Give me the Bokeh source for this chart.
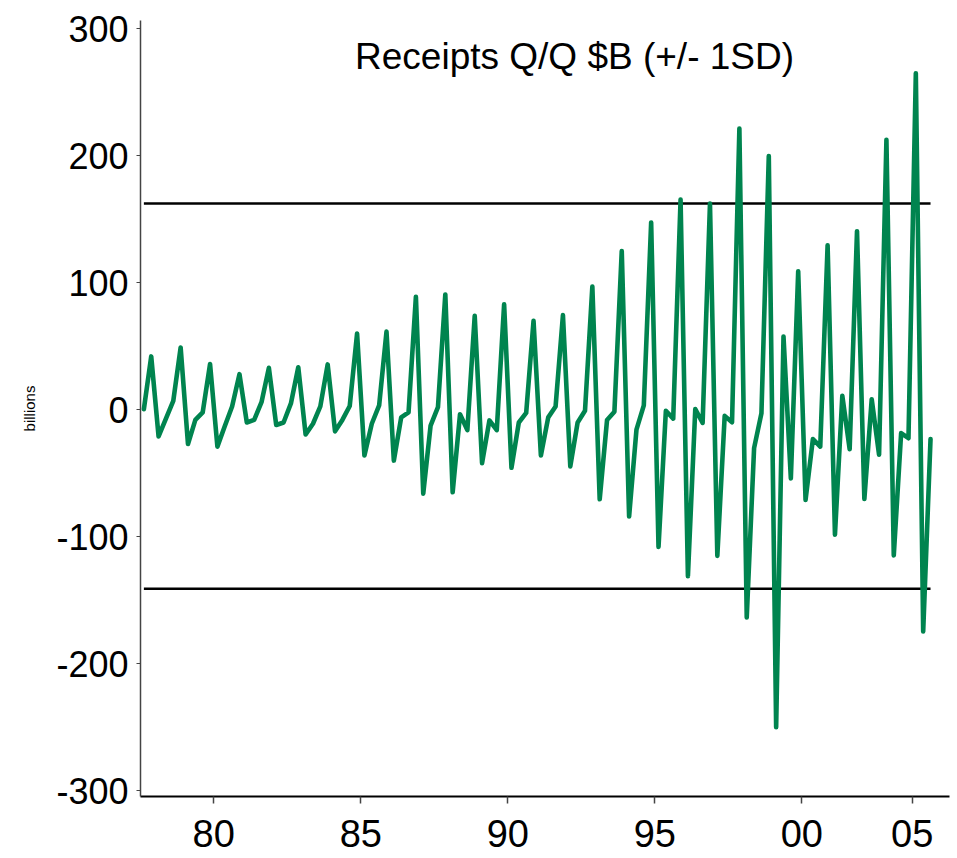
import pandas as pd
from bokeh.plotting import figure
from bokeh.models import ColumnDataSource, FixedTicker, Range1d, Label
from bokeh.embed import file_html
from bokeh.resources import INLINE

# Quarterly federal receipts, quarter-on-quarter change ($ billions)
quarters = pd.period_range("1978Q1", "2004Q4", freq="Q")
receipts_qq = [
    0.5, 42, -21, -7,          # 1978
    7, 49, -27, -8,            # 1979
    -2, 36, -29, -13,          # 1980
    2.6, 28, -10, -8,          # 1981
    6, 33, -12, -10,           # 1982
    5, 33.5, -19.5, -11,       # 1983
    2.6, 35.7, -17, -8,        # 1984
    3, 60, -36, -11,           # 1985
    3.4, 61.5, -40, -6,        # 1986
    -2, 89, -66, -12.4,        # 1987
    2, 90.8, -65, -3.5,        # 1988
    -16, 74, -42, -8.4,        # 1989
    -16, 83, -45.7, -10,       # 1990
    -2.5, 70, -36, -6,         # 1991
    2.6, 74.5, -44.6, -10,     # 1992
    -0.8, 97, -70.5, -8,       # 1993
    -1.5, 125, -84, -15.7,     # 1994
    3.5, 147.5, -108, -0.8,    # 1995
    -7, 165.5, -131, 0.6,      # 1996
    -10.3, 162.3, -115, -4.8,  # 1997
    -9.8, 221.5, -163.5, -30.2,  # 1998
    -2.8, 199.7, -250, 57.7,   # 1999
    -54, 109, -71, -23,        # 2000
    -29, 129.5, -98.3, 11,     # 2001
    -31, 140.6, -70.3, 8.3,    # 2002
    -35.4, 212.5, -114.7, -18.4,  # 2003
    -22.4, 265, -174.6, -23,   # 2004
]

# +/- one standard deviation band
sd_upper = 162.5
sd_lower = -141.0

y_ticks = [-300, -200, -100, 0, 100, 200, 300]
y_tick_labels = ["-300", "-200", "-100", "0", "100", "200", "300"]
x_ticks = [1980.5, 1985.5, 1990.5, 1995.5, 2000.5, 2004.25]
x_tick_labels = ["80", "85", "90", "95", "00", "05"]

title_text = "Receipts Q/Q $B (+/- 1SD)"
FONT = "Liberation Sans"

# plot each quarter at its midpoint
t = [q.year + (q.quarter - 1) * 0.25 + 0.125 for q in quarters]
src = ColumnDataSource(dict(t=t, v=receipts_qq))

p = figure(
    width=957, height=858,
    x_range=Range1d(1978.01, 2005.52),
    y_range=Range1d(-304.5, 306.5),
    output_backend="svg", toolbar_location=None,
    min_border_left=140, min_border_right=8,
    min_border_top=20, min_border_bottom=62,
)
p.outline_line_color = None
p.grid.visible = False
p.background_fill_color = "white"
p.border_fill_color = "white"

# standard-deviation lines across the sample
p.line(x=[t[0], t[-1]], y=[sd_upper, sd_upper], line_color="black", line_width=2.5)
p.line(x=[t[0], t[-1]], y=[sd_lower, sd_lower], line_color="black", line_width=2.5)

p.line(x="t", y="v", source=src, line_color="#00844F", line_width=4.6,
       line_join="round", line_cap="round")

# y axis
ya = p.yaxis[0]
ya.ticker = FixedTicker(ticks=y_ticks)
ya.major_label_overrides = {k: v for k, v in zip(y_ticks, y_tick_labels)}
ya.major_label_text_font = FONT
ya.major_label_text_font_size = "36px"
ya.major_label_text_color = "black"
ya.major_label_standoff = 8
ya.major_tick_out = 4
ya.major_tick_in = 0
ya.minor_tick_out = 0
ya.minor_tick_in = 0
ya.axis_line_width = 1.5
ya.axis_line_color = "#444444"
ya.major_tick_line_color = "#444444"
ya.axis_label = "billions"
ya.axis_label_text_font = FONT
ya.axis_label_text_font_size = "15px"
ya.axis_label_text_font_style = "normal"
ya.axis_label_text_color = "black"
ya.axis_label_standoff = 15

# x axis
xa = p.xaxis[0]
xa.ticker = FixedTicker(ticks=x_ticks)
xa.major_label_overrides = {k: v for k, v in zip(x_ticks, x_tick_labels)}
xa.major_label_text_font = FONT
xa.major_label_text_font_size = "38px"
xa.major_label_text_color = "black"
xa.major_label_standoff = 16
xa.major_tick_out = 7
xa.major_tick_in = 0
xa.minor_tick_out = 0
xa.minor_tick_in = 0
xa.axis_line_width = 2
xa.axis_line_color = "black"
xa.major_tick_line_color = "#444444"
xa.major_tick_line_width = 1.5

p.add_layout(Label(
    x=1992.77, y=278.5, text=title_text,
    text_font=FONT, text_font_size="37px", text_color="black",
    text_align="center", text_baseline="alphabetic",
))

open("out.html", "w").write(file_html(p, INLINE))
